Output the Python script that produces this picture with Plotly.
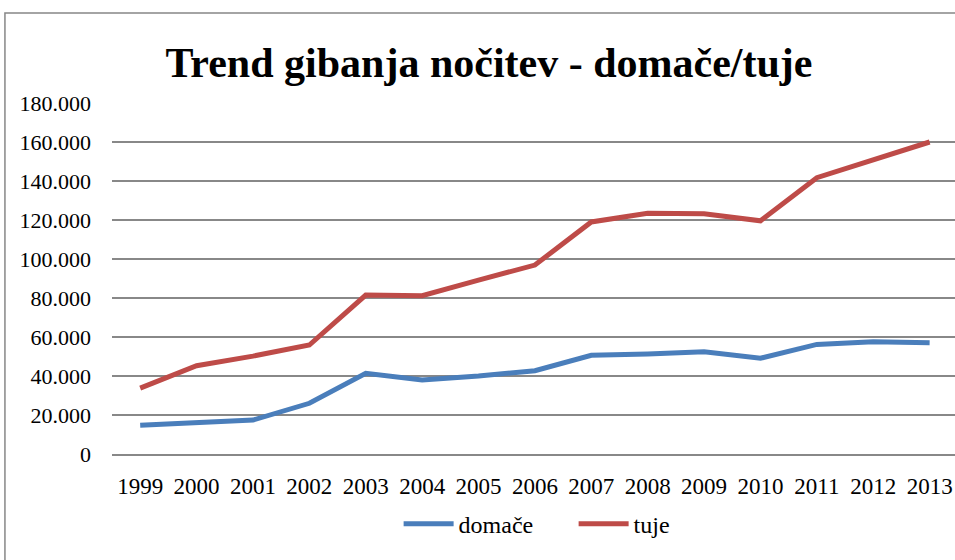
import plotly.graph_objects as go

# podatki - nočitve po letih
leta = ['1999', '2000', '2001', '2002', '2003', '2004', '2005', '2006',
        '2007', '2008', '2009', '2010', '2011', '2012', '2013']
domace = [14700, 16000, 17400, 26000, 41400, 38000, 40000, 42700,
          50600, 51300, 52400, 49100, 56200, 57600, 57100]
tuje = [33800, 45300, 50200, 55900, 81500, 81200, 89200, 96900,
        119000, 123400, 123200, 119600, 141700, 150800, 160000]
y_ticks = [0, 20000, 40000, 60000, 80000, 100000, 120000, 140000, 160000, 180000]

fnt = 'Liberation Serif, Times New Roman, serif'

fig = go.Figure()
fig.add_trace(go.Scatter(x=leta, y=domace, name='domače', mode='lines',
                         line=dict(color='#4A7EBB', width=5)))
fig.add_trace(go.Scatter(x=leta, y=tuje, name='tuje', mode='lines',
                         line=dict(color='#BE4B48', width=5)))

fig.update_layout(
    width=955, height=560,
    margin={'t': 103, 'l': 112, 'r': 0, 'b': 106},
    paper_bgcolor='white', plot_bgcolor='white',
    separators=',.',
    font=dict(family=fnt, size=22, color='black'),
    title=dict(text='<b>Trend gibanja nočitev - domače/tuje</b>',
               font=dict(family=fnt, size=42, color='black'),
               x=0.512, xref='container', xanchor='center',
               y=0.889, yref='container', yanchor='middle'),
    showlegend=True,
    legend=dict(orientation='h', x=0.34, xanchor='left', y=-0.2, yanchor='middle',
                font=dict(family=fnt, size=24), entrywidth=110, itemwidth=50,
                tracegroupgap=0),
    shapes=[dict(type='rect', xref='paper', yref='paper',
                 x0=-0.127, x1=1.1, y0=-0.5, y1=1.2564,
                 line=dict(color='#878787', width=1.5))],
)
fig.update_xaxes(type='category', range=[-0.5, 14.45], showgrid=False,
                 showline=True, linecolor='#888888', linewidth=2, ticks='',
                 tickfont=dict(size=23), ticklabelstandoff=10, fixedrange=True)
fig.update_yaxes(range=[0, 180000], tickvals=y_ticks, tickformat=',d',
                 showgrid=True, gridcolor='#888888', gridwidth=2,
                 zeroline=False, showline=False, ticks='',
                 ticklabelstandoff=20, tickfont=dict(size=22), fixedrange=True)

# stran brez robov, da se graf začne v kotu
fig.write_html("out.html", config={'displayModeBar': False},
               post_script="document.body.style.margin='0';")
